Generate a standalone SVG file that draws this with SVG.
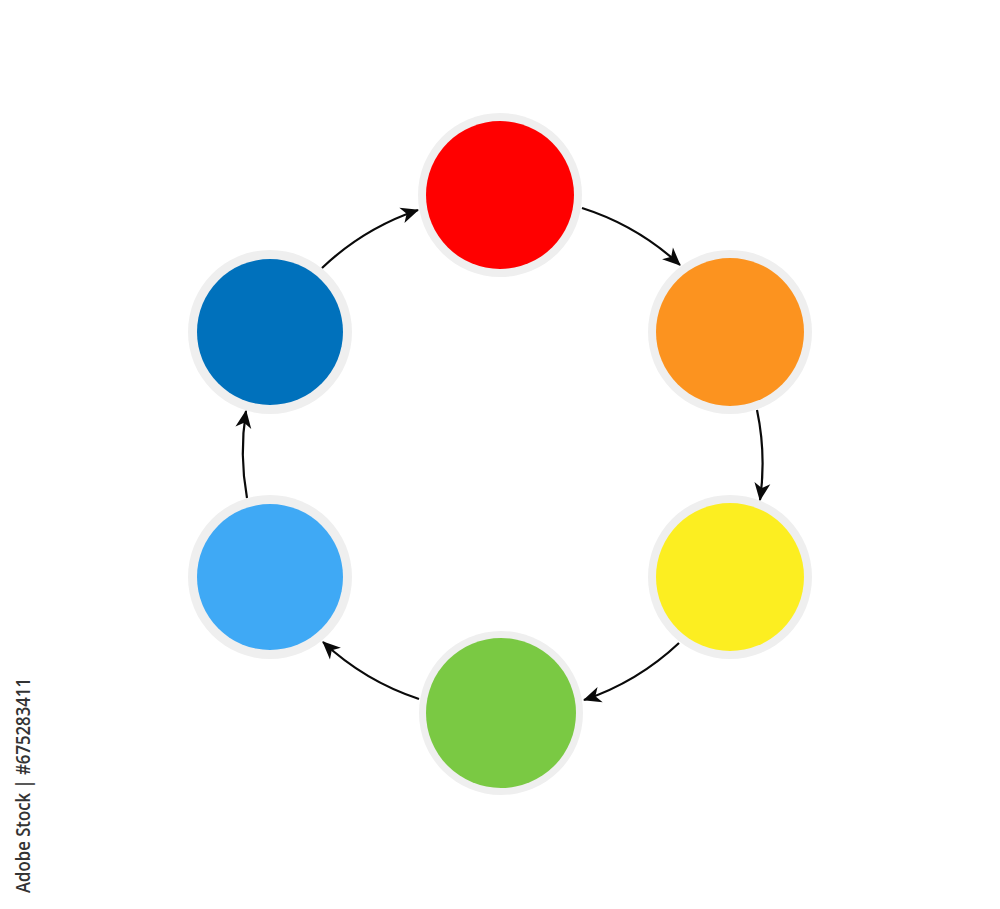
<svg xmlns="http://www.w3.org/2000/svg" width="1000" height="909" viewBox="0 0 1000 909">
  <style>
    .ring { fill: #efefef; }
    .conn { fill: none; stroke: #0a0a0a; stroke-width: 2.2; }
    .credit { font-family: "Open Sans", "Liberation Sans", sans-serif; font-weight: 600; font-size: 20px; fill: #333333; }
  </style>
  <defs>
    <marker id="arrow" markerUnits="userSpaceOnUse" viewBox="-20 -10 22 20" markerWidth="22" markerHeight="20" refX="0" refY="0" orient="auto" overflow="visible">
      <path d="M1,0 L-17,-8 L-12,0 L-17,8 Z" fill="#0a0a0a"/>
    </marker>
  </defs>
  <rect x="0" y="0" width="1000" height="909" fill="#ffffff"/>

  <g id="node-red">
    <circle class="ring" cx="500" cy="195" r="82"/>
    <circle cx="500" cy="195" r="74" fill="#ff0000"/>
  </g>
  <g id="node-orange">
    <circle class="ring" cx="730" cy="332" r="82"/>
    <circle cx="730" cy="332" r="74" fill="#fc931f"/>
  </g>
  <g id="node-yellow">
    <circle class="ring" cx="730" cy="577" r="82"/>
    <circle cx="730" cy="577" r="74" fill="#fcee21"/>
  </g>
  <g id="node-green">
    <circle class="ring" cx="501" cy="713" r="82"/>
    <circle cx="501" cy="713" r="75" fill="#7ac943"/>
  </g>
  <g id="node-lightblue">
    <circle class="ring" cx="270" cy="577" r="82"/>
    <circle cx="270" cy="577" r="73" fill="#3fa9f5"/>
  </g>
  <g id="node-darkblue">
    <circle class="ring" cx="270" cy="332" r="82"/>
    <circle cx="270" cy="332" r="73" fill="#0071bc"/>
  </g>

  <g id="connectors">
    <path class="conn" d="M582,208 A260,260 0 0 1 680,265" marker-end="url(#arrow)"/>
    <path class="conn" d="M757,410 A260,260 0 0 1 760,500" marker-end="url(#arrow)"/>
    <path class="conn" d="M679,643 A260,260 0 0 1 584,700" marker-end="url(#arrow)"/>
    <path class="conn" d="M419,699 A260,260 0 0 1 323,642" marker-end="url(#arrow)"/>
    <path class="conn" d="M247,498 A260,260 0 0 1 246,411" marker-end="url(#arrow)"/>
    <path class="conn" d="M322,268 A260,260 0 0 1 418,210" marker-end="url(#arrow)"/>
  </g>

  <text class="credit" transform="translate(30,893) rotate(-90)" textLength="215" lengthAdjust="spacingAndGlyphs">Adobe Stock | #675283411</text>
</svg>
